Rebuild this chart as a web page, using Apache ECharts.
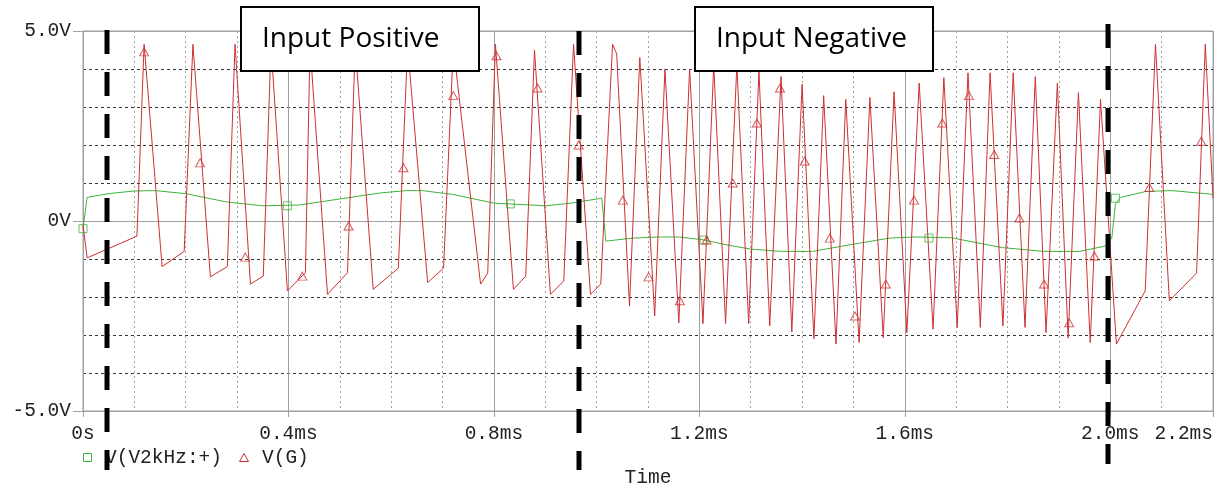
<!DOCTYPE html>
<html><head><meta charset="utf-8">
<script src="https://cdn.jsdelivr.net/npm/echarts@6/dist/echarts.min.js"></script>
<style>html,body{margin:0;padding:0;background:#fff}#c{width:1223px;height:488px}</style>
</head><body><div id="c"></div><script>
// ---- data (time in ms, voltage in V) ----
const redT = [0, 0.008, 0.105, 0.119, 0.154, 0.197, 0.214, 0.248, 0.281, 0.296, 0.326, 0.351, 0.366, 0.398, 0.433, 0.442, 0.476, 0.515, 0.530, 0.565, 0.614, 0.632, 0.671, 0.702, 0.721, 0.774, 0.788, 0.803, 0.838, 0.862, 0.879, 0.910, 0.936, 0.955, 0.988, 1.008, 1.031, 1.039, 1.064, 1.084, 1.113, 1.133, 1.160, 1.181, 1.207, 1.228, 1.251, 1.273, 1.296, 1.316, 1.337, 1.359, 1.380, 1.400, 1.423, 1.442, 1.466, 1.485, 1.511, 1.532, 1.558, 1.579, 1.604, 1.628, 1.655, 1.676, 1.702, 1.723, 1.747, 1.766, 1.791, 1.811, 1.834, 1.854, 1.875, 1.897, 1.918, 1.938, 1.961, 1.981, 2.012, 2.068, 2.088, 2.115, 2.168, 2.185, 2.2];
const redV = [-0.1, -0.97, -0.4, 4.65, -1.2, -0.8, 4.65, -1.47, -1.2, 4.65, -1.66, -1.45, 4.6, -1.84, -1.36, 4.6, -1.93, -1.36, 4.6, -1.8, -1.24, 4.6, -1.62, -1.24, 4.6, -1.66, -1.37, 4.65, -1.8, -1.45, 4.5, -1.93, -1.58, 4.65, -1.93, -1.66, 4.65, 4.4, -2.24, 4.3, -2.5, 4.0, -2.68, 4.0, -2.7, 4.1, -2.7, 4.1, -2.7, 3.95, -2.76, 3.8, -2.92, 3.6, -3.1, 3.3, -3.24, 3.2, -3.2, 3.25, -3.07, 3.4, -2.94, 3.63, -2.85, 3.77, -2.8, 3.9, -2.8, 3.9, -2.76, 3.9, -2.8, 3.8, -2.94, 3.63, -3.08, 3.38, -3.2, 3.2, -3.24, -1.84, 4.65, -2.1, -1.37, 4.65, 0.6];
const greenT = [0, 0.008, 0.05, 0.1, 0.14, 0.2, 0.28, 0.35, 0.42, 0.47, 0.58, 0.63, 0.66, 0.72, 0.8, 0.83, 0.9, 0.95, 1.01, 1.018, 1.07, 1.12, 1.16, 1.21, 1.25, 1.3, 1.36, 1.42, 1.5, 1.57, 1.62, 1.69, 1.79, 1.87, 1.94, 1.99, 2.003, 2.01, 2.02, 2.07, 2.12, 2.2];
const greenV = [-0.2, 0.62, 0.72, 0.79, 0.8, 0.72, 0.5, 0.4, 0.42, 0.52, 0.74, 0.8, 0.8, 0.7, 0.47, 0.45, 0.4, 0.47, 0.6, -0.53, -0.45, -0.42, -0.42, -0.5, -0.62, -0.74, -0.8, -0.8, -0.61, -0.45, -0.42, -0.44, -0.7, -0.8, -0.8, -0.66, -0.45, 0.45, 0.62, 0.78, 0.8, 0.7];
const redMarkT = [0.119, 0.228, 0.316, 0.427, 0.517, 0.624, 0.721, 0.805, 0.885, 0.965, 1.051, 1.101, 1.162, 1.214, 1.265, 1.312, 1.357, 1.405, 1.454, 1.503, 1.563, 1.618, 1.673, 1.725, 1.774, 1.823, 1.871, 1.92, 1.969, 2.076, 2.177];
const redMarkV = [4.45, 1.53, -0.95, -1.45, -0.13, 1.4, 3.3, 4.35, 3.5, 2.0, 0.55, -1.47, -2.1, -0.5, 1.0, 2.58, 3.5, 1.58, -0.45, -2.5, -1.66, 0.55, 2.58, 3.3, 1.75, 0.08, -1.66, -2.68, -0.92, 0.88, 2.1];
const greenMarkT = [0, 0.398, 0.832, 1.209, 1.647, 2.01];
const greenMarkV = [-0.2, 0.4, 0.45, -0.5, -0.45, 0.6];
const seriesNames = ['V(V2kHz:+)', 'V(G)'];
const yLabelValues = [-5, 0, 5];
const yLabelTexts = ['-5.0V', '0V', '5.0V'];
const dividerTimes = [0.047, 0.965, 1.996];
const boxTexts = ['Input Positive', 'Input Negative'];
const xAxisTitle = 'Time';

const zip = (a, b) => a.map((x, i) => [x, b[i]]);
const MONO = '"Liberation Mono", "DejaVu Sans Mono", monospace';
const GRID_GRAY = '#a0a0a0';
const RED = '#cc3030';
const GREEN = '#3cb43c';

const chart = echarts.init(document.getElementById('c'), null, {renderer: 'canvas'});
const option = {
  animation: false,
  backgroundColor: '#fff',
  grid: {left: 83, right: 10, top: 31, bottom: 77, show: true, borderColor: GRID_GRAY, borderWidth: 1,
         backgroundColor: 'transparent', containLabel: false, outerBoundsMode: 'none'},
  xAxis: [
    {type: 'value', min: 0, max: 2.2, interval: 0.1,
     axisLine: {show: false}, axisTick: {show: false}, axisLabel: {show: false},
     splitLine: {show: true, lineStyle: {color: GRID_GRAY, type: [2, 3], width: 1}}},
    {type: 'value', min: 0, max: 2.2, interval: 0.4, position: 'bottom',
     axisLine: {show: true, onZero: false, lineStyle: {color: GRID_GRAY}},
     axisTick: {show: true, length: 6, lineStyle: {color: GRID_GRAY}},
     axisLabel: {show: true, margin: 13, color: '#222', fontFamily: MONO, fontSize: 19.5,
       alignMaxLabel: 'right',
       formatter: v => v === 0 ? '0s' : (Math.round(v * 10) / 10).toFixed(1) + 'ms'},
     splitLine: {show: true, lineStyle: {color: GRID_GRAY, width: 1}},
     name: xAxisTitle, nameLocation: 'middle', nameGap: 57,
     nameTextStyle: {color: '#222', fontFamily: MONO, fontSize: 19.5}}
  ],
  yAxis: [
    {type: 'value', min: -5, max: 5, interval: 1, position: 'left',
     axisLine: {show: false}, axisTick: {show: false}, axisLabel: {show: false},
     splitLine: {show: true, lineStyle: {color: '#333', type: [3, 3], width: 1}}},
    {type: 'value', min: -5, max: 5, interval: 5, position: 'left',
     axisLine: {show: true, onZero: false, lineStyle: {color: GRID_GRAY}},
     axisTick: {show: true, length: 10, lineStyle: {color: GRID_GRAY}},
     axisLabel: {margin: 12, color: '#222', fontFamily: MONO, fontSize: 19.5,
       formatter: v => { const i = yLabelValues.indexOf(Math.round(v)); return i >= 0 ? yLabelTexts[i] : ''; }},
     splitLine: {show: true, lineStyle: {color: GRID_GRAY, width: 1}}}
  ],
  series: [
    {type: 'line', name: seriesNames[0], xAxisIndex: 1, yAxisIndex: 1, data: zip(greenT, greenV),
     showSymbol: false, symbol: 'none', lineStyle: {color: GREEN, width: 1}, z: 3},
    {type: 'line', name: seriesNames[1], xAxisIndex: 1, yAxisIndex: 1, data: zip(redT, redV),
     showSymbol: false, symbol: 'none', lineStyle: {color: RED, width: 1}, z: 4},
    {type: 'scatter', xAxisIndex: 1, yAxisIndex: 1, data: zip(greenMarkT, greenMarkV),
     symbol: 'rect', symbolSize: 8, itemStyle: {color: 'rgba(0,0,0,0)', borderColor: GREEN, borderWidth: 1}, z: 5},
    {type: 'scatter', xAxisIndex: 1, yAxisIndex: 1, data: zip(redMarkT, redMarkV),
     symbol: 'triangle', symbolSize: [9, 8], itemStyle: {color: 'rgba(0,0,0,0)', borderColor: RED, borderWidth: 1}, z: 5}
  ]
};
chart.setOption(option);

const px = t => chart.convertToPixel({xAxisIndex: 1}, t);
const dividerSpan = [[30, 470], [31, 470], [24, 464]];
const graphics = [];
dividerTimes.forEach((t, i) => {
  const x = Math.round(px(t));
  graphics.push({type: 'line', z: 100, silent: true,
    shape: {x1: x, y1: dividerSpan[i][0], x2: x, y2: dividerSpan[i][1]},
    style: {stroke: '#000', lineWidth: 5, lineDash: [24, 18]}});
});
const boxLeft = [241, 695];
boxTexts.forEach((s, i) => {
  graphics.push({type: 'rect', z: 110, silent: true,
    shape: {x: boxLeft[i], y: 7, width: 238, height: 64},
    style: {fill: '#fff', stroke: '#000', lineWidth: 2}});
  graphics.push({type: 'text', z: 111, silent: true, x: boxLeft[i] + 21, y: 39,
    style: {text: s, fill: '#000', font: '28px "Open Sans", "Noto Sans", sans-serif', verticalAlign: 'middle', align: 'left'}});
});
// legend
graphics.push({type: 'rect', z: 90, shape: {x: 83.5, y: 453.5, width: 8, height: 8},
  style: {fill: 'none', stroke: GREEN, lineWidth: 1}});
graphics.push({type: 'text', z: 90, x: 105, y: 458,
  style: {text: seriesNames[0], fill: '#222', font: '19.5px ' + MONO, verticalAlign: 'middle'}});
graphics.push({type: 'polygon', z: 90, shape: {points: [[239.5, 461.5], [248.5, 461.5], [244, 453.5]]},
  style: {fill: 'none', stroke: RED, lineWidth: 1}});
graphics.push({type: 'text', z: 90, x: 262, y: 458,
  style: {text: seriesNames[1], fill: '#222', font: '19.5px ' + MONO, verticalAlign: 'middle'}});
chart.setOption({graphic: graphics});
</script></body></html>
